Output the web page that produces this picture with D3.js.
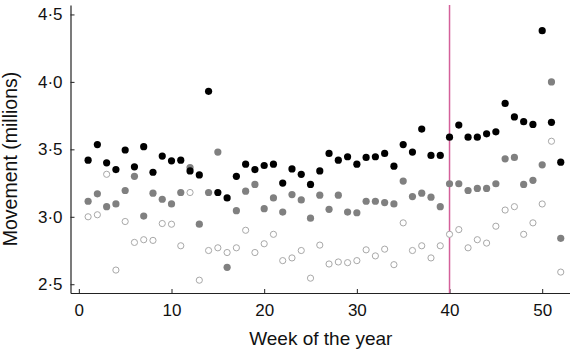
<!DOCTYPE html>
<html>
<head>
<meta charset="utf-8">
<script src="https://cdn.jsdelivr.net/npm/d3@7"></script>
<style>
  body { margin: 0; background: #fff; }
  text { font-family: "Liberation Sans", Arial, sans-serif; }
</style>
</head>
<body>
<svg width="570" height="350"></svg>
<script>
// weeks 1..52
var weeks = d3.range(1, 53);

// top series (black filled)
var seriesBlack = [3.42, 3.535, 3.40, 3.35, 3.495, 3.37, 3.52, 3.33, 3.45, 3.415, 3.42, 3.34, 3.31,
  3.93, 3.18, 3.14, 3.30, 3.39, 3.35, 3.38, 3.39, 3.25, 3.355, 3.315, 3.24, 3.34,
  3.47, 3.42, 3.445, 3.39, 3.44, 3.445, 3.47, 3.375, 3.535, 3.48, 3.65, 3.455, 3.455,
  3.59, 3.68, 3.59, 3.59, 3.615, 3.63, 3.84, 3.74, 3.705, 3.685, 4.38, 3.70, 3.405];

// middle series (grey filled)
var seriesGrey = [3.115, 3.17, 3.075, 3.095, 3.195, 3.30, 3.005, 3.175, 3.13, 3.095, 3.18, 3.365, 2.945,
  3.18, 3.48, 2.625, 3.045, 3.19, 3.24, 3.06, 3.14, 3.035, 3.165, 3.125, 2.99, 3.16,
  3.055, 3.16, 3.035, 3.03, 3.115, 3.115, 3.105, 3.095, 3.265, 3.15, 3.175, 3.145, 3.075,
  3.245, 3.245, 3.195, 3.21, 3.21, 3.245, 3.43, 3.44, 3.24, 3.27, 3.385, 4.00, 2.84];

// bottom series (open circles)
var seriesOpen = [3.00, 3.015, 3.315, 2.605, 2.965, 2.81, 2.83, 2.825, 2.95, 2.945, 2.785, 3.18, 2.53,
  2.75, 2.77, 2.735, 2.77, 2.90, 2.735, 2.80, 2.87, 2.675, 2.695, 2.75, 2.545, 2.79,
  2.65, 2.665, 2.66, 2.675, 2.755, 2.71, 2.76, 2.645, 2.955, 2.75, 2.785, 2.695, 2.785,
  2.87, 2.905, 2.77, 2.83, 2.805, 2.93, 3.05, 3.075, 2.87, 2.955, 3.095, 3.56, 2.59];

var xTicks = [0, 10, 20, 30, 40, 50];
var yTicks = [2.5, 3.0, 3.5, 4.0, 4.5];
var markerWeek = 40;

var svg = d3.select("svg");

var x = d3.scaleLinear().domain([-0.9, 53]).range([70.5, 570]);
var y = d3.scaleLinear().domain([2.435, 4.57]).range([293, 5]);

var fmt = function(d) { return d3.format(".1f")(d).replace(".", "\u00b7"); };

// x axis
var gx = svg.append("g")
    .attr("transform", "translate(0," + y.range()[0] + ")")
    .call(d3.axisBottom(x).tickValues(xTicks).tickSizeInner(-4).tickSizeOuter(0).tickPadding(11));

// y axis
var gy = svg.append("g")
    .attr("transform", "translate(" + x.range()[0] + ",0)")
    .call(d3.axisLeft(y).tickValues(yTicks).tickFormat(fmt).tickSizeInner(-4).tickSizeOuter(0).tickPadding(8));

[gx, gy].forEach(function(g) {
  g.select(".domain").attr("stroke", "#222").attr("stroke-width", 1.2);
  g.selectAll(".tick line").attr("stroke", "#222");
  g.selectAll(".tick text")
    .attr("fill", "#111")
    .style("font-family", "'Liberation Sans', Arial, sans-serif")
    .style("font-size", "17px");
});

// marker line at week 40
svg.append("line")
    .attr("x1", x(markerWeek)).attr("x2", x(markerWeek))
    .attr("y1", y.range()[1]).attr("y2", y.range()[0])
    .attr("stroke", "#d4609a")
    .attr("stroke-width", 1.5);

// open circles
svg.append("g").selectAll("circle")
    .data(weeks)
    .enter().append("circle")
    .attr("cx", function(d) { return x(d); })
    .attr("cy", function(d, i) { return y(seriesOpen[i]); })
    .attr("r", 3.1)
    .attr("fill", "#fff")
    .attr("stroke", "#a8a8a8")
    .attr("stroke-width", 1);

// grey filled
svg.append("g").selectAll("circle")
    .data(weeks)
    .enter().append("circle")
    .attr("cx", function(d) { return x(d); })
    .attr("cy", function(d, i) { return y(seriesGrey[i]); })
    .attr("r", 3.6)
    .attr("fill", "#808080");

// black filled
svg.append("g").selectAll("circle")
    .data(weeks)
    .enter().append("circle")
    .attr("cx", function(d) { return x(d); })
    .attr("cy", function(d, i) { return y(seriesBlack[i]); })
    .attr("r", 3.6)
    .attr("fill", "#000");

// axis titles
svg.append("text")
    .attr("x", 320.8)
    .attr("y", 344.5)
    .attr("text-anchor", "middle")
    .style("font-size", "19px")
    .attr("fill", "#111")
    .text("Week of the year");

svg.append("text")
    .attr("transform", "translate(17,159) rotate(-90)")
    .attr("text-anchor", "middle")
    .style("font-size", "19.5px")
    .attr("fill", "#111")
    .text("Movement (millions)");
</script>
</body>
</html>
